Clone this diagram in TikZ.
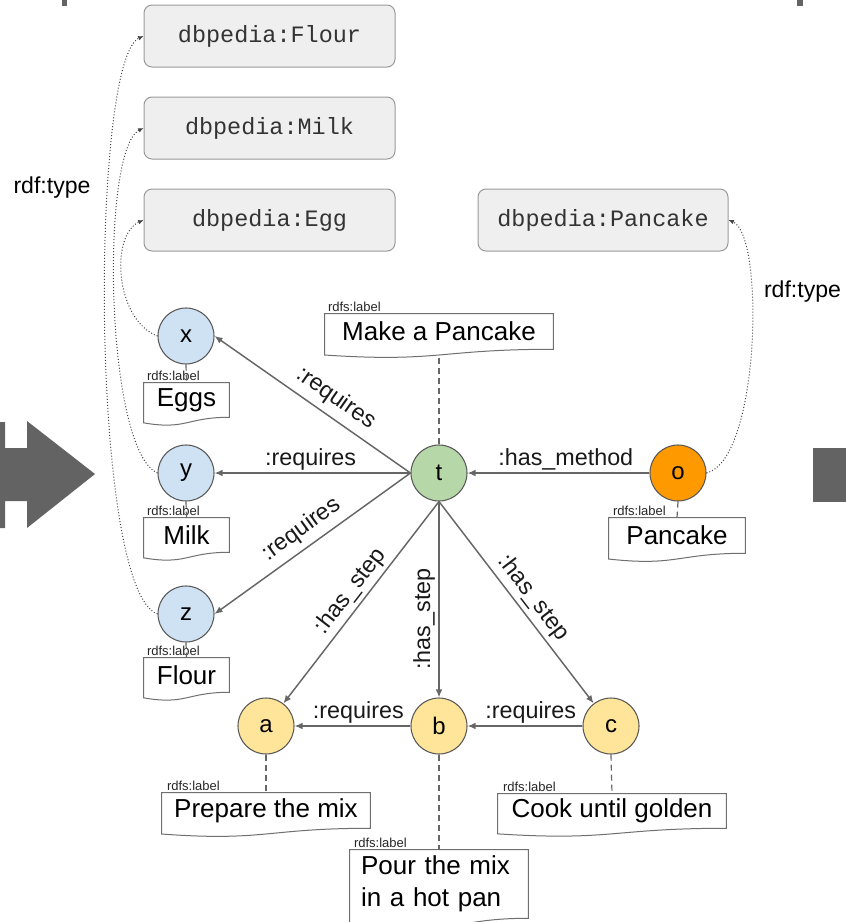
\documentclass[tikz,border=0pt]{standalone}
\usepackage{fontspec}
\setmainfont{Liberation Sans}
\setmonofont{Liberation Mono}
\usetikzlibrary{arrows.meta,calc}
\definecolor{edgegray}{HTML}{666666}
\definecolor{circborder}{HTML}{595959}
\definecolor{dbborder}{HTML}{9A9A9A}
\definecolor{dbfill}{HTML}{EFEFEF}
\definecolor{dbtext}{HTML}{333333}
\definecolor{lboxborder}{HTML}{6F6F6F}
\definecolor{dotgray}{HTML}{444444}
\definecolor{shapegray}{HTML}{636363}
\definecolor{blueres}{HTML}{CFE2F3}
\definecolor{greenres}{HTML}{B6D7A8}
\definecolor{orangeres}{HTML}{FF9900}
\definecolor{yellowres}{HTML}{FFE599}
\tikzset{
  dbbox/.style={draw=dbborder, line width=0.75pt, fill=dbfill, rounded corners=6pt,
    minimum width=251*0.75pt, minimum height=62*0.75pt, inner sep=0pt,
    font=\ttfamily\fontsize{17.6}{20}\selectfont, text=dbtext},
  res/.style={circle, draw=circborder, line width=0.8pt, minimum size=42pt, inner sep=0pt,
    font=\fontsize{18}{20}\selectfont},
  lbox/.style={inner sep=0pt, font=\fontsize{19.5}{24}\selectfont},
  rdfslbl/.style={anchor=base west, inner sep=0pt, font=\fontsize{9.75}{11}\selectfont, text=black!85},
  rel/.style={draw=edgegray, line width=1.1pt, -{Latex[length=6pt,width=5pt]}},
  elblfont/.style={font=\fontsize{17.5}{20}\selectfont, text=black!90},
  elbl/.style={elblfont, inner sep=1.5pt, sloped, above},
  lblconn/.style={draw=edgegray, line width=0.9pt, dash pattern=on 4.5pt off 3pt},
  typeconn/.style={draw=dotgray, line width=0.75pt, dash pattern=on 0.75pt off 1.5pt,
    -{Latex[length=4pt,width=3.5pt]}},
  docshape/.style={draw=lboxborder, line width=0.75pt},
  typelbl/.style={font=\fontsize{17.3}{20}\selectfont, inner sep=0pt},
}
\begin{document}
\begin{tikzpicture}[x=0.75pt,y=-0.75pt]
\useasboundingbox (0,0) rectangle (846,922);

% decorative gray shapes at the edges
\fill[shapegray] (0,422) -- (5,422) -- (5,448) -- (27,448) -- (27,421) -- (95,474)
  -- (27,528) -- (27,501) -- (5,501) -- (5,528) -- (0,528) -- cycle;
\fill[shapegray] (813,448) rectangle (846,502);
\fill[shapegray] (62,0) rectangle (67,6);
\fill[shapegray] (797,0) rectangle (803,6);

% dbpedia classes
\node[dbbox] (flour) at (269.5,36) {dbpedia:Flour};
\node[dbbox] (milk) at (269.5,128) {dbpedia:Milk};
\node[dbbox] (egg) at (269.5,220) {dbpedia:Egg};
\node[dbbox, minimum width=250*0.75pt] (pancake) at (603,220) {dbpedia:Pancake};

% resources
\node[res, fill=blueres] (x) at (186,336) {x};
\node[res, fill=blueres] (y) at (186,473) {y};
\node[res, fill=blueres] (z) at (186,614) {z};
\node[res, fill=greenres] (t) at (439,473) {t};
\node[res, fill=orangeres] (o) at (678,473) {o};
\node[res, fill=yellowres] (a) at (266,726) {a};
\node[res, fill=yellowres] (b) at (439,726) {b};
\node[res, fill=yellowres] (c) at (611,726) {c};

% label boxes
\node[lbox, minimum width=228*0.75pt, minimum height=35*0.75pt] (lt) at (439,331.5) {Make a Pancake};
\node[lbox, minimum width=85*0.75pt, minimum height=34*0.75pt] (lx) at (186.5,400) {Eggs};
\node[lbox, minimum width=85*0.75pt, minimum height=34*0.75pt] (ly) at (186.5,535) {Milk};
\node[lbox, minimum width=85*0.75pt, minimum height=34*0.75pt] (lz) at (186.5,675) {Flour};
\node[lbox, minimum width=136*0.75pt, minimum height=35*0.75pt] (lo) at (677,535.5) {Pancake};
\node[lbox, minimum width=208*0.75pt, minimum height=35*0.75pt] (la) at (266,810.5) {Prepare the mix};
\node[lbox, minimum width=228*0.75pt, minimum height=34*0.75pt] (lc) at (612,811) {Cook until golden};
\node[lbox, inner xsep=11*0.75pt, text width=156*0.75pt, minimum height=68*0.75pt, align=left] (lb) at (439,884) {Pour the mix\\in a hot pan};

\foreach \n/\h in {lt/35, lx/34, ly/34, lz/34, lo/35, la/35, lc/34, lb/68} {
  \draw[docshape] (\n.north west) -- (\n.north east) -- (\n.south east)
    .. controls (\n.south) and ($(\n.south)+(0,0.381*\h)$) .. ($(\n.south west)+(0,0.1645*\h)$) -- cycle;
}

% rdfs:label captions
\node[rdfslbl] (cap-lt) at ($(lt.north west)+(3,-2)$) {rdfs:label};
\node[rdfslbl] (cap-lx) at ($(lx.north west)+(3,-2)$) {rdfs:label};
\node[rdfslbl] (cap-ly) at ($(ly.north west)+(3,-2)$) {rdfs:label};
\node[rdfslbl] (cap-lz) at ($(lz.north west)+(3,-2)$) {rdfs:label};
\node[rdfslbl] (cap-lo) at ($(lo.north west)+(4,-2)$) {rdfs:label};
\node[rdfslbl] (cap-la) at ($(la.north west)+(5,-2)$) {rdfs:label};
\node[rdfslbl] (cap-lc) at ($(lc.north west)+(5,-2)$) {rdfs:label};
\node[rdfslbl] (cap-lb) at ($(lb.north west)+(4,-2)$) {rdfs:label};

% label connectors
\draw[lblconn] (t.north) -- ($(lt.south)+(0,5.7)$);
\draw[lblconn] (x.south) -- (lx.north);
\draw[lblconn] (y.south) -- (ly.north);
\draw[lblconn] (z.south) -- (lz.north);
\draw[lblconn] (o.south) -- (lo.north);
\draw[lblconn] (a.south) -- (la.north);
\draw[lblconn] (b.south) -- (lb.north);
\draw[lblconn] (c.south) -- (lc.north);

% relations
\draw[rel] (t.west) -- (x.east) node[elbl, pos=0.434, above=3.6pt] {:requires};
\draw[rel] (t.west) -- (y.east) node[elbl, pos=0.51] {:requires};
\draw[rel] (t.west) -- (z.east) node[elbl, pos=0.503, above=3pt] {:requires};
\draw[rel] (t.south) -- (a) node[elbl, pos=0.49, above=1pt] {:has\_step};
\draw[rel] (t.south) -- (b.north) node[elblfont, pos=0.6, rotate=90, anchor=south, inner sep=2.5pt] {:has\_step};
\draw[rel] (t.south) -- (c) node[elbl, pos=0.527, above=2pt] {:has\_step};
\draw[rel] (o.west) -- (t.east) node[elbl, pos=0.46] {:has\_method};
\draw[rel] (b.west) -- (a.east) node[elbl, pos=0.45] {:requires};
\draw[rel] (c.west) -- (b.east) node[elbl, pos=0.45] {:requires};

% rdf:type links
\draw[typeconn] (x.west) .. controls (115,320) and (110,235) .. (egg.west);
\draw[typeconn] (y.west) .. controls (105,450) and (100,150) .. (milk.west);
\draw[typeconn] (z.west) .. controls (90,590) and (90,60) .. (flour.west);
\draw[typeconn] (o.east) .. controls (760,460) and (765,235) .. (pancake.east);

\node[typelbl] (type-left) at (52,188) {rdf:type};
\node[typelbl] (type-right) at (802.5,292) {rdf:type};
\end{tikzpicture}
\end{document}
